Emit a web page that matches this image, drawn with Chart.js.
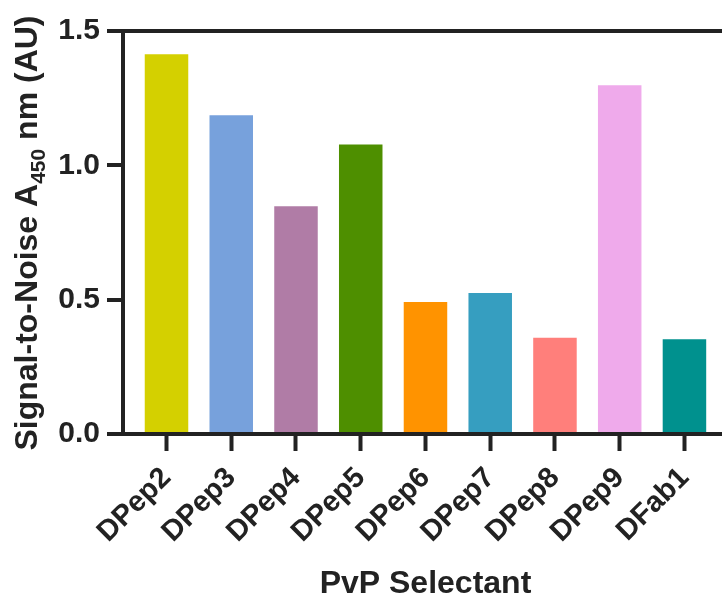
<!DOCTYPE html>
<html>
<head>
<meta charset="utf-8">
<script src="https://cdn.jsdelivr.net/npm/chart.js@4.4.1/dist/chart.umd.min.js"></script>
<style>
  body { margin: 0; background: #fff; }
  #wrap { width: 722px; height: 600px; }
</style>
</head>
<body>
<div id="wrap"><canvas id="myChart" width="722" height="600"></canvas></div>
<script>
var categorias = ['DPep2', 'DPep3', 'DPep4', 'DPep5', 'DPep6', 'DPep7', 'DPep8', 'DPep9', 'DFab1'];
var valores = [1.413, 1.186, 0.848, 1.078, 0.491, 0.525, 0.358, 1.298, 0.353];
var colores = ['#D4D000', '#77A1DC', '#B07CA6', '#4E8F00', '#FF9300', '#369EC0', '#FF7F7B', '#EFAAEB', '#00918E'];
var ticksY = [0, 0.5, 1.0, 1.5];

var fuente = "'Liberation Sans', Arial, sans-serif";
var negro = '#222222';

// titulos de los ejes dibujados a mano (el de y lleva subindice)
var titulos = {
  id: 'titulos',
  afterDraw: function(chart) {
    var ctx = chart.ctx;
    var f = 32, fs = 21;
    var partes = [
      { t: 'Signal-to-Noise A', s: f, dy: 0 },
      { t: '450', s: fs, dy: 8 },
      { t: ' nm (AU)', s: f, dy: 0 }
    ];
    ctx.save();
    var total = 0;
    partes.forEach(function(p) {
      ctx.font = 'bold ' + p.s + 'px ' + fuente;
      p.w = ctx.measureText(p.t).width;
      total += p.w;
    });
    ctx.translate(37, 233);
    ctx.rotate(-Math.PI / 2);
    ctx.fillStyle = negro;
    ctx.textBaseline = 'alphabetic';
    var x = -total / 2;
    partes.forEach(function(p) {
      ctx.font = 'bold ' + p.s + 'px ' + fuente;
      ctx.fillText(p.t, x, p.dy);
      x += p.w;
    });
    ctx.restore();

    // titulo x centrado sobre las barras
    var sx = chart.scales.x;
    var cx = (sx.getPixelForValue(0) + sx.getPixelForValue(categorias.length - 1)) / 2;
    ctx.save();
    ctx.font = 'bold 32px ' + fuente;
    ctx.fillStyle = negro;
    ctx.textAlign = 'center';
    ctx.textBaseline = 'alphabetic';
    ctx.fillText('PvP Selectant', cx, 593);
    ctx.restore();
  }
};

var ctx = document.getElementById('myChart').getContext('2d');
var chart = new Chart(ctx, {
  type: 'bar',
  data: {
    datasets: [{
      data: valores.map(function(v, i) { return { x: i, y: v }; }),
      backgroundColor: colores,
      borderWidth: 0,
      categoryPercentage: 1,
      barPercentage: 0.672
    }]
  },
  options: {
    responsive: false,
    devicePixelRatio: 1,
    animation: false,
    layout: { padding: { top: 31, right: 0, left: 0, bottom: 0 } },
    plugins: { legend: { display: false }, tooltip: { enabled: false } },
    scales: {
      x: {
        type: 'linear',
        offset: false,
        min: -0.672,
        max: 8.58,
        afterBuildTicks: function(scale) {
          scale.ticks = categorias.map(function(c, i) { return { value: i }; });
        },
        afterFit: function(scale) { scale.height = 166; },
        border: { display: true, color: negro, width: 4 },
        grid: {
          offset: false,
          drawOnChartArea: false,
          drawTicks: true,
          tickLength: 17,
          tickColor: negro,
          tickWidth: 4
        },
        ticks: {
          autoSkip: false,
          maxRotation: 45,
          minRotation: 45,
          padding: 10,
          color: negro,
          font: { family: fuente, size: 29, weight: 'bold' },
          callback: function(v) { return categorias[v]; }
        }
      },
      y: {
        min: 0,
        max: 1.5,
        afterBuildTicks: function(scale) {
          scale.ticks = ticksY.map(function(v) { return { value: v }; });
        },
        afterFit: function(scale) { scale.width = 123; },
        border: { display: true, color: negro, width: 4 },
        grid: {
          color: function(c) {
            return (c.tick && (c.tick.value === 0 || c.tick.value === 1.5)) ? negro : 'rgba(0,0,0,0)';
          },
          lineWidth: 4,
          drawTicks: true,
          tickLength: 16,
          tickColor: negro,
          tickWidth: 4
        },
        ticks: {
          padding: 7,
          color: negro,
          font: { family: fuente, size: 30, weight: 'bold' },
          callback: function(v) { return v.toFixed(1); }
        }
      }
    }
  },
  plugins: [titulos]
});
</script>
</body>
</html>
